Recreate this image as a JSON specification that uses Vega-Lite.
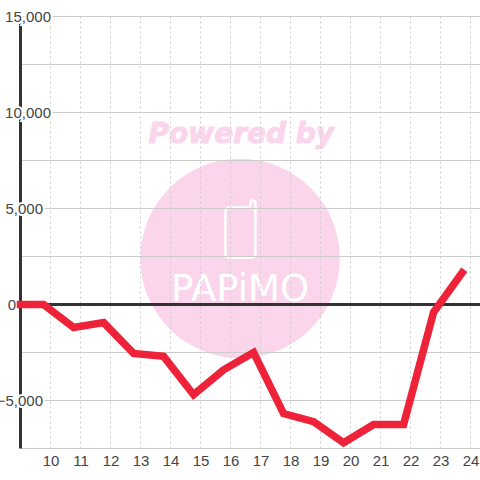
{"$schema":"https://vega.github.io/schema/vega-lite/v6.json","width":460,"height":432,"autosize":"none","padding":{"left":20.5,"top":16.5,"right":0,"bottom":31.5},"background":"white","config":{"view":{"stroke":null}},
"datasets":{
"series":[{"h":9,"v":0},{"h":9.77,"v":0},{"h":10.77,"v":-1200},{"h":11.77,"v":-940},{"h":12.77,"v":-2550},{"h":13.77,"v":-2700},{"h":14.77,"v":-4700},{"h":15.77,"v":-3400},{"h":16.77,"v":-2500},{"h":17.77,"v":-5680},{"h":18.77,"v":-6100},{"h":19.77,"v":-7200},{"h":20.77,"v":-6250},{"h":21.77,"v":-6250},{"h":22.77,"v":-400},{"h":23.72,"v":1650}],
"hticks":[{"v":15000},{"v":12500},{"v":10000},{"v":7500},{"v":5000},{"v":2500},{"v":-2500},{"v":-5000},{"v":-7500}],
"vticks":[{"h":10},{"h":11},{"h":12},{"h":13},{"h":14},{"h":15},{"h":16},{"h":17},{"h":18},{"h":19},{"h":20},{"h":21},{"h":22},{"h":23},{"h":24}],
"logo":[{"h":16.32,"v":2400}],
"ylabels":[{"v":15000,"g":"a"},{"v":10000,"g":"a"},{"v":5000,"g":"b"},{"v":-5000,"g":"b"},{"v":0,"g":"c"}]
},
"layer":[
{"data":{"name":"logo"},"mark":{"type":"point","shape":"circle","filled":true,"size":39800,"color":"#FBD5EC","opacity":1},"encoding":{"x":{"field":"h","type":"quantitative","scale":{"domain":[9,24.3333],"nice":false,"zero":false},"axis":null},"y":{"field":"v","type":"quantitative","scale":{"domain":[-7500,15000],"nice":false,"zero":false},"axis":null}}},
{"data":{"values":[{"h":16.36,"v":8850,"t":"Powered by"}]},"mark":{"type":"text","font":"DejaVu Sans","fontWeight":"bold","fontStyle":"italic","fontSize":28,"color":"#FBD5EC","stroke":"#FBD5EC","strokeWidth":1,"baseline":"middle","align":"center"},"encoding":{"x":{"field":"h","type":"quantitative"},"y":{"field":"v","type":"quantitative"},"text":{"field":"t"}}},
{"data":{"name":"logo"},"mark":{"type":"point","shape":"M 9 -22 L -11 -22 Q -15 -22 -15 -18 L -15 24 Q -15 28 -11 28 L 11 28 Q 15 28 15 24 L 15 -26 Q 15 -29 12.5 -29 Q 10 -29 10 -26 L 10 -22","size":4,"filled":false,"strokeWidth":2.5,"color":"white","opacity":1},"encoding":{"x":{"datum":16.33},"y":{"datum":3906}}},
{"data":{"values":[{"h":16.32,"v":730,"t":"PAPiMO"}]},"mark":{"type":"text","font":"DejaVu Sans","fontSize":37,"color":"white","baseline":"middle","align":"center"},"encoding":{"x":{"field":"h","type":"quantitative"},"y":{"field":"v","type":"quantitative"},"text":{"field":"t"}}},
{"data":{"name":"vticks"},"mark":{"type":"rule","color":"#cccccc","strokeWidth":1,"strokeDash":[2,3]},"encoding":{"x":{"field":"h","type":"quantitative"}}},
{"data":{"name":"hticks"},"mark":{"type":"rule","color":"#cccccc","strokeWidth":1},"encoding":{"y":{"field":"v","type":"quantitative"}}},
{"data":{"name":"series"},"transform":[{"filter":"datum.h==9"}],"mark":{"type":"rule","color":"#333333","strokeWidth":3},"encoding":{"x":{"datum":9}}},
{"data":{"values":[{"v":0}]},"mark":{"type":"rule","color":"#333333","strokeWidth":3},"encoding":{"y":{"field":"v","type":"quantitative"}}},
{"data":{"name":"vticks"},"mark":{"type":"text","font":"Liberation Sans","fontSize":15,"align":"center","baseline":"middle","dy":12,"dx":0.5,"color":"#444444"},"encoding":{"x":{"field":"h","type":"quantitative"},"y":{"datum":-7500},"text":{"field":"h","type":"quantitative","format":"d"}}},
{"data":{"name":"ylabels"},"transform":[{"filter":"datum.g=='a'"}],"mark":{"type":"text","font":"Liberation Sans","fontSize":15,"align":"right","baseline":"middle","dx":30.5,"dy":0.5,"fill":"white","stroke":"white","strokeWidth":4},"encoding":{"x":{"datum":9},"y":{"field":"v","type":"quantitative"},"text":{"field":"v","format":","}}},
{"data":{"name":"ylabels"},"transform":[{"filter":"datum.g=='b'"}],"mark":{"type":"text","font":"Liberation Sans","fontSize":15,"align":"right","baseline":"middle","dx":22.5,"dy":0.5,"fill":"white","stroke":"white","strokeWidth":4},"encoding":{"x":{"datum":9},"y":{"field":"v","type":"quantitative"},"text":{"field":"v","format":","}}},
{"data":{"name":"ylabels"},"transform":[{"filter":"datum.g=='c'"}],"mark":{"type":"text","font":"Liberation Sans","fontSize":15,"align":"right","baseline":"middle","dx":-4.5,"dy":0.5,"fill":"white","stroke":"white","strokeWidth":4},"encoding":{"x":{"datum":9},"y":{"field":"v","type":"quantitative"},"text":{"field":"v","format":","}}},
{"data":{"name":"ylabels"},"transform":[{"filter":"datum.g=='a'"}],"mark":{"type":"text","font":"Liberation Sans","fontSize":15,"align":"right","baseline":"middle","dx":30.5,"dy":0.5,"color":"#444444"},"encoding":{"x":{"datum":9},"y":{"field":"v","type":"quantitative"},"text":{"field":"v","format":","}}},
{"data":{"name":"ylabels"},"transform":[{"filter":"datum.g=='b'"}],"mark":{"type":"text","font":"Liberation Sans","fontSize":15,"align":"right","baseline":"middle","dx":22.5,"dy":0.5,"color":"#444444"},"encoding":{"x":{"datum":9},"y":{"field":"v","type":"quantitative"},"text":{"field":"v","format":","}}},
{"data":{"name":"ylabels"},"transform":[{"filter":"datum.g=='c'"}],"mark":{"type":"text","font":"Liberation Sans","fontSize":15,"align":"right","baseline":"middle","dx":-4.5,"dy":0.5,"color":"#444444"},"encoding":{"x":{"datum":9},"y":{"field":"v","type":"quantitative"},"text":{"field":"v","format":","}}},
{"data":{"name":"series"},"mark":{"type":"line","color":"#EE2238","strokeWidth":7.5,"strokeCap":"square","strokeJoin":"miter","interpolate":"linear"},"encoding":{"x":{"field":"h","type":"quantitative"},"y":{"field":"v","type":"quantitative"}}}
]}
